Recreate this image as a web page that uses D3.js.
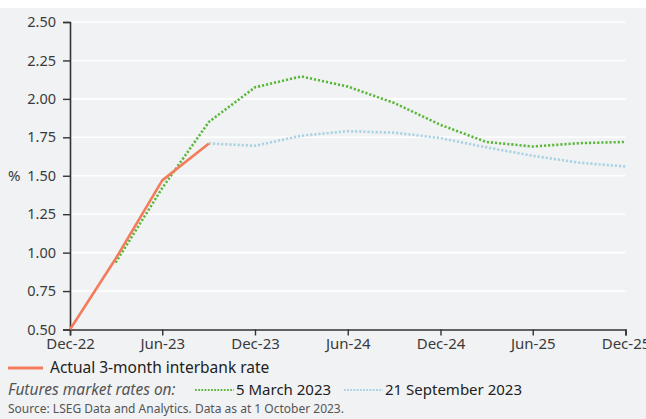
<!DOCTYPE html>
<html>
<head>
<meta charset="utf-8">
<script src="https://cdn.jsdelivr.net/npm/d3@7"></script>
<style>
  html, body { margin: 0; padding: 0; background: #ffffff; }
  svg { display: block; }
  text { font-family: "Noto Sans", "Open Sans", sans-serif; }
</style>
</head>
<body>
<svg id="chart" width="646" height="419"></svg>
<script>
// Quarterly observations, in per cent
const actualDates = ["2022-12", "2023-03", "2023-06", "2023-09"];
const actualValues = [0.50, 0.96, 1.47, 1.71];

const march2023Dates = ["2023-03", "2023-06", "2023-09", "2023-12", "2024-03", "2024-06",
                        "2024-09", "2024-12", "2025-03", "2025-06", "2025-09", "2025-12"];
const march2023Values = [0.935, 1.42, 1.85, 2.075, 2.146, 2.08, 1.973, 1.831, 1.72, 1.69, 1.712, 1.72];

const sept2023Dates = ["2023-09", "2023-12", "2024-03", "2024-06", "2024-09",
                       "2024-12", "2025-03", "2025-06", "2025-09", "2025-12"];
const sept2023Values = [1.71, 1.695, 1.76, 1.79, 1.78, 1.745, 1.685, 1.63, 1.585, 1.56];

const yTicks = [0.50, 0.75, 1.00, 1.25, 1.50, 1.75, 2.00, 2.25, 2.50];
const xTickDates = ["2022-12", "2023-06", "2023-12", "2024-06", "2024-12", "2025-06", "2025-12"];

const seriesNames = {
  actual: "Actual 3-month interbank rate",
  futuresLead: "Futures market rates on:",
  march: "5 March 2023",
  sept: "21 September 2023"
};
const sourceNote = "Source: LSEG Data and Analytics. Data as at 1 October 2023.";

const parseMonth = d3.timeParse("%Y-%m");
const fmtMonth = d3.timeFormat("%b-%y");

const svg = d3.select("#chart");
const W = 646, H = 419;

// Panel background
svg.append("rect").attr("x", 0).attr("y", 8).attr("width", W).attr("height", H - 8)
  .attr("fill", "#f1f2f4");

const x = d3.scaleTime()
  .domain([parseMonth("2022-12"), parseMonth("2025-12")])
  .range([70, 625.5]);
const y = d3.scaleLinear().domain([0.5, 2.5]).range([329.5, 22]);

// Horizontal gridlines
svg.append("g").selectAll("line")
  .data(yTicks.filter(v => v > 0.5))
  .join("line")
  .attr("x1", x.range()[0]).attr("x2", x.range()[1])
  .attr("y1", d => y(d)).attr("y2", d => y(d))
  .attr("stroke", "#ffffff").attr("stroke-width", 1.6);

// Axes
const yAxis = svg.append("g")
  .attr("transform", `translate(${x.range()[0]},0)`)
  .call(d3.axisLeft(y).tickValues(yTicks).tickFormat(d3.format(".2f")).tickSizeOuter(0).tickSize(7).tickPadding(7));
const xAxis = svg.append("g")
  .attr("transform", `translate(0,${y.range()[0]})`)
  .call(d3.axisBottom(x).tickValues(xTickDates.map(parseMonth)).tickFormat(fmtMonth).tickSizeOuter(0).tickSize(6).tickPadding(3));

[yAxis, xAxis].forEach(g => {
  g.select(".domain").attr("stroke", "#333333").attr("stroke-width", 1.6);
  g.selectAll(".tick line").attr("stroke", "#333333").attr("stroke-width", 1.4);
  g.selectAll(".tick text").attr("fill", "#3a3a3a").attr("font-size", 15)
    .attr("font-family", "'Noto Sans', 'Open Sans', sans-serif");
});
yAxis.selectAll(".tick text").attr("font-size", 14.5);

svg.append("text").attr("x", 8).attr("y", y(1.5)).attr("dy", "0.35em")
  .attr("font-size", 15).attr("fill", "#3a3a3a").text("%");

const line = d3.line().x(d => x(d.date)).y(d => y(d.value));
const toPoints = (dates, values) => dates.map((d, i) => ({ date: parseMonth(d), value: values[i] }));

const styles = {
  actual: { stroke: "#f47c5c", width: 2.6, dash: null },
  march: { stroke: "#5cb83c", width: 2.6, dash: "2.2,1.9" },
  sept: { stroke: "#a9d2e2", width: 2.6, dash: "2.2,1.9" }
};

const plot = svg.append("g");
[["sept", sept2023Dates, sept2023Values], ["march", march2023Dates, march2023Values], ["actual", actualDates, actualValues]]
  .forEach(([key, dates, values]) => {
    const s = styles[key];
    plot.append("path")
      .datum(toPoints(dates, values))
      .attr("d", line)
      .attr("fill", "none")
      .attr("stroke", s.stroke)
      .attr("stroke-width", s.width)
      .attr("stroke-dasharray", s.dash)
      .attr("stroke-linejoin", "round");
  });

// Legend
const legend = svg.append("g");
legend.append("line").attr("x1", 8).attr("x2", 43).attr("y1", 368).attr("y2", 368)
  .attr("stroke", styles.actual.stroke).attr("stroke-width", 3);
legend.append("text").attr("x", 50).attr("y", 368).attr("dy", "0.35em")
  .attr("font-size", 15.5).attr("fill", "#222222").text(seriesNames.actual);

legend.append("text").attr("x", 8).attr("y", 390).attr("dy", "0.35em")
  .attr("font-size", 15.5).attr("font-style", "italic").attr("fill", "#555555").text(seriesNames.futuresLead);

legend.append("line").attr("x1", 195).attr("x2", 234).attr("y1", 390).attr("y2", 390)
  .attr("stroke", styles.march.stroke).attr("stroke-width", 2.2).attr("stroke-dasharray", "1.8,1.4");
legend.append("text").attr("x", 236).attr("y", 390).attr("dy", "0.35em")
  .attr("font-size", 15).attr("fill", "#222222").text(seriesNames.march);

legend.append("line").attr("x1", 344).attr("x2", 383).attr("y1", 390).attr("y2", 390)
  .attr("stroke", styles.sept.stroke).attr("stroke-width", 2.2).attr("stroke-dasharray", "1.8,1.4");
legend.append("text").attr("x", 385).attr("y", 390).attr("dy", "0.35em")
  .attr("font-size", 15).attr("fill", "#222222").text(seriesNames.sept);

svg.append("text").attr("x", 8).attr("y", 409).attr("dy", "0.35em")
  .attr("font-size", 12).attr("fill", "#555555").text(sourceNote);
</script>
</body>
</html>
